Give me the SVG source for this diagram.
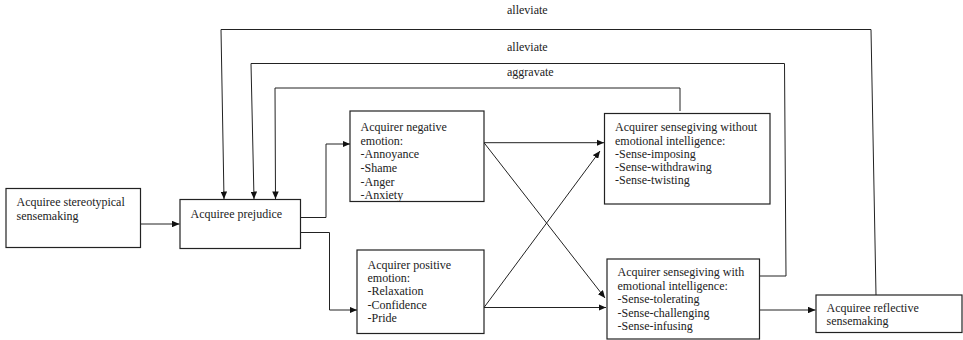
<svg xmlns="http://www.w3.org/2000/svg" width="963" height="340" viewBox="0 0 963 340">
<style>
.box{fill:#fff;stroke:#222;stroke-width:1.2}
.t{font-family:"Liberation Serif","Times New Roman",serif;font-size:12px;fill:#222}
.c{fill:none;stroke:#222;stroke-width:1}
</style>
<defs>
<marker id="ah" markerWidth="7.5" markerHeight="6.5" refX="7.5" refY="3.25" orient="auto" markerUnits="userSpaceOnUse">
<path d="M0,0 L7.5,3.25 L0,6.5 Z" fill="#111"/>
</marker>
</defs>
<rect width="963" height="340" fill="#fff"/>
<g id="connectors">
<polyline class="c" points="876,295 871,29.5 221,29.5 224,199" marker-end="url(#ah)"/>
<polyline class="c" points="760,276 786,276 784.5,63.5 251,63.5 254,199" marker-end="url(#ah)"/>
<polyline class="c" points="680,111 680,88 275,88 275.5,199" marker-end="url(#ah)"/>
<line class="c" x1="141" y1="224" x2="179.5" y2="224" marker-end="url(#ah)"/>
<polyline class="c" points="301,217.5 326,217.5 326,144 350,144" marker-end="url(#ah)"/>
<polyline class="c" points="301,232.5 329.5,232.5 329.5,310 357,310" marker-end="url(#ah)"/>
<line class="c" x1="484" y1="142.7" x2="604" y2="142.7" marker-end="url(#ah)"/>
<line class="c" x1="484" y1="142.7" x2="605" y2="298" marker-end="url(#ah)"/>
<line class="c" x1="484" y1="307.5" x2="600" y2="151" marker-end="url(#ah)"/>
<line class="c" x1="484" y1="307.5" x2="606" y2="307.5" marker-end="url(#ah)"/>
<line class="c" x1="760" y1="310" x2="815.5" y2="310" marker-end="url(#ah)"/>
<text class="t" x="507" y="14">alleviate</text>
<text class="t" x="507" y="51">alleviate</text>
<text class="t" x="507" y="76">aggravate</text>
</g>
<g id="stereotypical">
<rect class="box" x="6" y="188.5" width="134.5" height="59"/>
<text class="t" x="16.5" y="206">Acquiree stereotypical</text>
<text class="t" x="16.5" y="219.5">sensemaking</text>
</g>
<g id="prejudice">
<rect class="box" x="180" y="199.5" width="120.5" height="49"/>
<text class="t" x="190.5" y="218">Acquiree prejudice</text>
</g>
<g id="negative">
<rect class="box" x="350" y="111" width="134" height="90.5"/>
<text class="t" x="360.5" y="131">Acquirer negative</text>
<text class="t" x="360.5" y="144.5">emotion:</text>
<text class="t" x="360.5" y="158">-Annoyance</text>
<text class="t" x="360.5" y="172">-Shame</text>
<text class="t" x="360.5" y="185.5">-Anger</text>
<text class="t" x="360.5" y="199">-Anxiety</text>
</g>
<g id="positive">
<rect class="box" x="357" y="250" width="127" height="83.5"/>
<text class="t" x="367.5" y="268.5">Acquirer positive</text>
<text class="t" x="367.5" y="282">emotion:</text>
<text class="t" x="367.5" y="294.5">-Relaxation</text>
<text class="t" x="367.5" y="308.5">-Confidence</text>
<text class="t" x="367.5" y="322">-Pride</text>
</g>
<g id="without-ei">
<rect class="box" x="604.5" y="113.5" width="165.5" height="90.5"/>
<text class="t" x="615" y="131">Acquirer sensegiving without</text>
<text class="t" x="615" y="144.5">emotional intelligence:</text>
<text class="t" x="615" y="157.5">-Sense-imposing</text>
<text class="t" x="615" y="171">-Sense-withdrawing</text>
<text class="t" x="615" y="184">-Sense-twisting</text>
</g>
<g id="with-ei">
<rect class="box" x="607" y="259" width="152.5" height="80"/>
<text class="t" x="617.5" y="276">Acquirer sensegiving with</text>
<text class="t" x="617.5" y="289.5">emotional intelligence:</text>
<text class="t" x="617.5" y="302.5">-Sense-tolerating</text>
<text class="t" x="617.5" y="316.5">-Sense-challenging</text>
<text class="t" x="617.5" y="330">-Sense-infusing</text>
</g>
<g id="reflective">
<rect class="box" x="816" y="295" width="146" height="37.5"/>
<text class="t" x="826.5" y="312">Acquiree reflective</text>
<text class="t" x="826.5" y="325">sensemaking</text>
</g>
</svg>
